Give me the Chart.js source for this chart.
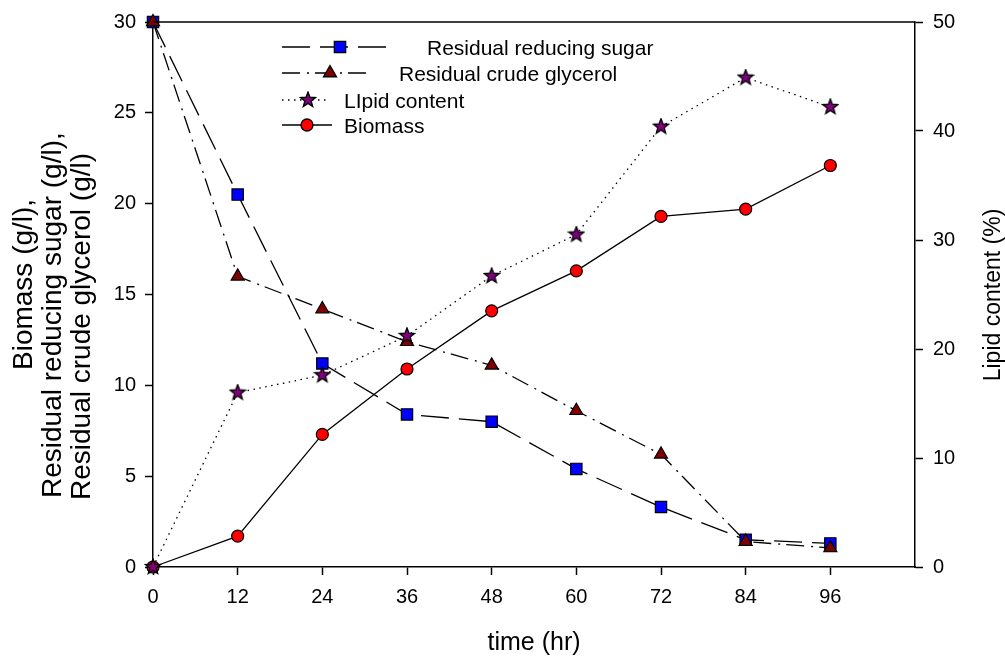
<!DOCTYPE html>
<html>
<head>
<meta charset="utf-8">
<script src="https://cdn.jsdelivr.net/npm/chart.js@4/dist/chart.umd.min.js"></script>
<style>
  body { margin: 0; background: #fff; }
  #wrap { width: 1005px; height: 658px; }
</style>
</head>
<body>
<div id="wrap"><canvas id="chart" width="1005" height="658"></canvas></div>
<script>
const hours = [0, 12, 24, 36, 48, 60, 72, 84, 96];
const reducingSugar = [30, 20.5, 11.2, 8.4, 8.0, 5.4, 3.3, 1.5, 1.3];
const crudeGlycerol = [30, 16.0, 14.2, 12.4, 11.1, 8.6, 6.2, 1.4, 1.05];
const lipidContent = [0, 16.0, 17.6, 21.2, 26.7, 30.5, 40.4, 44.9, 42.2];
const biomass = [0, 1.7, 7.3, 10.9, 14.1, 16.3, 19.3, 19.7, 22.1];

const FONT = "Arial, 'Liberation Sans', sans-serif";

const toPoints = vals => vals.map((v, i) => ({ x: hours[i], y: v }));

// filled five-point star used as the lipid marker
function makeStar(size, outer, inner) {
  const c = document.createElement('canvas');
  c.width = size; c.height = size;
  const g = c.getContext('2d');
  const cx = size / 2, cy = size / 2;
  g.beginPath();
  for (let i = 0; i < 10; i++) {
    const r = i % 2 === 0 ? outer : inner;
    const a = -Math.PI / 2 + i * Math.PI / 5;
    const px = cx + r * Math.cos(a), py = cy + r * Math.sin(a);
    if (i === 0) g.moveTo(px, py); else g.lineTo(px, py);
  }
  g.closePath();
  g.fillStyle = '#800080';
  g.fill();
  g.lineWidth = 1.3;
  g.strokeStyle = '#000';
  g.stroke();
  return c;
}
const starImg = makeStar(18, 8, 3.4);

const sugarDash = [28, 10];
const glycerolDash = [18, 7, 2, 6];
const lipidDash = [1.5, 4.5];

const datasets = [
  {
    label: 'Residual reducing sugar',
    data: toPoints(reducingSugar),
    yAxisID: 'y',
    borderColor: '#000',
    borderWidth: 1.3,
    borderDash: sugarDash,
    pointStyle: 'rect',
    pointRadius: 8,
    pointBackgroundColor: '#0000ff',
    pointBorderColor: '#000',
    pointBorderWidth: 1.2,
    clip: false,
    order: 3
  },
  {
    label: 'Residual crude glycerol',
    data: toPoints(crudeGlycerol),
    yAxisID: 'y',
    borderColor: '#000',
    borderWidth: 1.3,
    borderDash: glycerolDash,
    pointStyle: 'triangle',
    pointRadius: 7.5,
    pointBackgroundColor: '#800000',
    pointBorderColor: '#000',
    pointBorderWidth: 1.2,
    clip: false,
    order: 2
  },
  {
    label: 'LIpid content',
    data: toPoints(lipidContent),
    yAxisID: 'y2',
    borderColor: '#000',
    borderWidth: 1.3,
    borderDash: lipidDash,
    pointStyle: starImg,
    pointRadius: 8,
    clip: false,
    order: 0
  },
  {
    label: 'Biomass',
    data: toPoints(biomass),
    yAxisID: 'y',
    borderColor: '#000',
    borderWidth: 1.3,
    pointStyle: 'circle',
    pointRadius: 6,
    pointBackgroundColor: '#ff0000',
    pointBorderColor: '#000',
    pointBorderWidth: 1.2,
    clip: false,
    order: 1
  }
];

// legend rows: line start/end, marker x, line y, text x, text baseline
const legendRows = [
  { ds: 0, x0: 282, x1: 388, mx: 340, y: 47, tx: 427, ty: 54.5 },
  { ds: 1, x0: 282, x1: 370, mx: 330, y: 73, tx: 399, ty: 80.5 },
  { ds: 2, x0: 282, x1: 330, mx: 308, y: 100, tx: 344, ty: 108 },
  { ds: 3, x0: 282, x1: 332, mx: 307, y: 125, tx: 344, ty: 133 }
];

function rotatedText(ctx, text, x, y) {
  ctx.save();
  ctx.translate(x, y);
  ctx.rotate(-Math.PI / 2);
  ctx.fillText(text, 0, 0);
  ctx.restore();
}

const extras = {
  id: 'extras',
  afterDraw(chart) {
    const ctx = chart.ctx;
    const area = chart.chartArea;
    ctx.save();
    // top frame line
    ctx.strokeStyle = '#000';
    ctx.lineWidth = 1.5;
    ctx.beginPath();
    ctx.moveTo(area.left, area.top);
    ctx.lineTo(area.right, area.top);
    ctx.stroke();

    // legend
    ctx.font = '21px ' + FONT;
    ctx.textBaseline = 'alphabetic';
    ctx.textAlign = 'left';
    legendRows.forEach(row => {
      const ds = chart.data.datasets[row.ds];
      ctx.setLineDash(ds.borderDash || []);
      ctx.lineWidth = ds.borderWidth;
      ctx.strokeStyle = '#000';
      ctx.beginPath();
      ctx.moveTo(row.x0, row.y);
      ctx.lineTo(row.x1, row.y);
      ctx.stroke();
      ctx.setLineDash([]);
      ctx.fillStyle = ds.pointBackgroundColor || '#000';
      ctx.strokeStyle = '#000';
      Chart.helpers.drawPoint(ctx, {
        pointStyle: ds.pointStyle,
        radius: ds.pointRadius,
        rotation: 0,
        borderWidth: ds.pointBorderWidth || 0
      }, row.mx, row.y);
      ctx.fillStyle = '#000';
      ctx.fillText(ds.label, row.tx, row.ty);
    });

    // axis titles
    ctx.fillStyle = '#000';
    ctx.font = '25px ' + FONT;
    ctx.textAlign = 'center';
    ctx.fillText('time (hr)', 534, 650);

    ctx.font = '28px ' + FONT;
    ctx.textAlign = 'left';
    rotatedText(ctx, 'Biomass (g/l),', 32, 370);
    rotatedText(ctx, 'Residual reducing sugar (g/l),', 61, 498);
    rotatedText(ctx, 'Residual crude glycerol (g/l)', 90, 500);

    ctx.font = '23px ' + FONT;
    ctx.textAlign = 'center';
    rotatedText(ctx, 'Lipid content (%)', 1000, 295);
    ctx.restore();
  }
};

const axisCommon = {
  grid: { drawOnChartArea: false, drawTicks: true, tickLength: 8, tickColor: '#000', tickWidth: 1.5 },
  border: { display: true, color: '#000', width: 1.5 }
};
const tickFont = { size: 20, family: FONT };

new Chart(document.getElementById('chart'), {
  type: 'line',
  data: { datasets },
  options: {
    responsive: false,
    animation: false,
    layout: { padding: { top: 18, left: 0, right: 0, bottom: 0 } },
    plugins: { legend: { display: false }, tooltip: { enabled: false } },
    scales: {
      x: {
        type: 'linear',
        min: 0,
        max: 108,
        ...axisCommon,
        ticks: { stepSize: 12, color: '#000', font: tickFont, padding: 10, maxRotation: 0 },
        afterBuildTicks: s => { s.ticks = s.ticks.filter(t => t.value <= 96); },
        afterFit: s => { s.height = 91; }
      },
      y: {
        position: 'left',
        min: 0,
        max: 30,
        ...axisCommon,
        ticks: { stepSize: 5, color: '#000', font: tickFont, padding: 9 },
        afterFit: s => { s.width = 153; }
      },
      y2: {
        position: 'right',
        min: 0,
        max: 50,
        ...axisCommon,
        ticks: { stepSize: 10, color: '#000', font: tickFont, padding: 10 },
        afterFit: s => { s.width = 90; }
      }
    }
  },
  plugins: [extras]
});
</script>
</body>
</html>
